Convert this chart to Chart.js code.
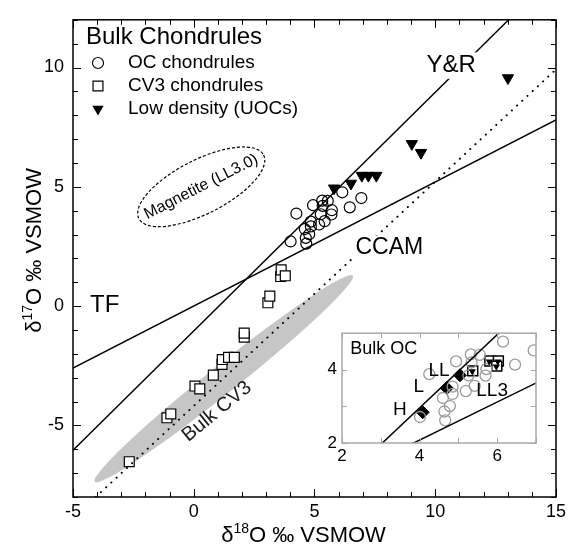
<!DOCTYPE html>
<html>
<head>
<meta charset="utf-8">
<script src="https://cdn.jsdelivr.net/npm/chart.js@4.4.1/dist/chart.umd.min.js"></script>
<style>
body{margin:0;background:#fff;}
#wrap{position:relative;width:570px;height:551px;}
#main{position:absolute;left:0;top:0;}
#inset{position:absolute;left:318px;top:318px;}
</style>
</head>
<body>
<div id="wrap">
<canvas id="main" width="570" height="551"></canvas>
<canvas id="inset" width="230" height="150"></canvas>
</div>
<script>
// data (delta18O, delta17O)
var ocChondrules = [[4.01,2.71],[4.25,3.88],[4.60,3.23],[4.64,2.86],[4.66,2.62],[4.78,3.01],[4.85,3.54],[4.85,3.34],[4.94,4.23],[5.19,3.42],
    [5.26,3.85],[5.32,4.42],[5.34,4.20],[5.42,3.56],[5.55,4.41],[5.70,3.84],[5.72,4.02],[6.15,4.77],[6.46,4.14],[6.94,4.53]];
var cv3Chondrules = [[-2.67,-6.52],[-1.11,-4.68],[-0.95,-4.52],[0.05,-3.35],[0.25,-3.47],[0.81,-2.89],[1.17,-2.44],[1.18,-2.24],[1.44,-2.15],
    [1.68,-2.15],[2.09,-1.30],[2.09,-1.13],[3.07,0.14],[3.15,0.42],[3.60,1.24],[3.62,1.52],[3.79,1.27]];
var lowDensity = [[5.81,4.94],[6.51,5.14],[6.96,5.47],[7.23,5.47],[7.56,5.47],[9.03,6.80],[9.41,6.43],[13.01,9.56]];
var bulkH = [[4.08,2.84]];
var bulkL = [[4.70,3.50]];
var bulkLL = [[5.04,3.85]];
var bulkLL3 = [[5.37,3.97],[5.81,4.24],[6.03,4.24],[5.99,4.10]];
var tfLine = [[-5,-2.6],[15,7.8]];
var yrLine = [[-5,-6.04],[13.04,12]];
var ccamLine = [[-4.06,-8],[15,9.92]];
var cv3Field = [[-4.1,-7.36],[6.59,1.28]];
var magnetiteField = [0.31,5.0];
var xTickLabels = [-5,0,5,10,15];
var yTickLabels = [-5,0,5,10];
var insetXTickLabels = [2,4,6];
var insetYTickLabels = [2,4];
var legendTitle = 'Bulk Chondrules';
var legendLabels = ['OC chondrules','CV3 chondrules','Low density (UOCs)'];
var xTitle = ['δ','18','O ‰ VSMOW'];
var yTitle = ['δ','17','O ‰ VSMOW'];

var FONT = "'Liberation Sans', Arial, Helvetica, sans-serif";
Chart.defaults.font.family = FONT;
Chart.defaults.color = '#000';

function pts(arr){ return arr.map(function(p){ return {x:p[0], y:p[1]}; }); }

function drawMarker(ctx, style, x, y, r, fill, stroke, lw){
    ctx.save();
    ctx.translate(x, y);
    ctx.beginPath();
    if(style === 'circle'){
        ctx.arc(0, 0, r, 0, 2*Math.PI);
    }else if(style === 'rect'){
        var s = r*Math.SQRT1_2;
        ctx.rect(-s, -s, 2*s, 2*s);
    }else if(style === 'down'){
        for(let i = 0; i < 3; i++){
            let a = Math.PI + i*2*Math.PI/3;
            let px = Math.sin(a)*r, py = -Math.cos(a)*r;
            if(i) ctx.lineTo(px, py); else ctx.moveTo(px, py);
        }
        ctx.closePath();
    }
    if(fill){ ctx.fillStyle = fill; ctx.fill(); }
    if(stroke){ ctx.strokeStyle = stroke; ctx.lineWidth = lw; ctx.stroke(); }
    ctx.restore();
}

function drawLabel(ctx, text, x, y, size, opts){
    opts = opts || {};
    ctx.save();
    ctx.translate(x, y);
    if(opts.rot) ctx.rotate(opts.rot*Math.PI/180);
    ctx.font = size + 'px ' + FONT;
    ctx.textBaseline = 'middle';
    ctx.textAlign = opts.align || 'center';
    if(opts.bg){
        var w = ctx.measureText(text).width;
        ctx.fillStyle = '#fff';
        ctx.fillRect(-w/2 - 3, -size*0.55, w + 6, size*1.1);
    }
    ctx.fillStyle = opts.color || '#000';
    ctx.fillText(text, 0, 0);
    ctx.restore();
}

function drawSupText(ctx, parts, x, y, size, rot){
    ctx.save();
    ctx.translate(x, y);
    if(rot) ctx.rotate(rot*Math.PI/180);
    ctx.textBaseline = 'middle';
    ctx.textAlign = 'left';
    ctx.fillStyle = '#000';
    var sub = Math.round(size*0.64);
    var widths = parts.map(function(t, i){
        ctx.font = (i === 1 ? sub : size) + 'px ' + FONT;
        return ctx.measureText(t).width;
    });
    var total = widths.reduce(function(a, b){ return a + b; }, 0);
    var cx = -total/2;
    parts.forEach(function(t, i){
        ctx.font = (i === 1 ? sub : size) + 'px ' + FONT;
        ctx.fillText(t, cx, i === 1 ? -size*0.3 : 0);
        cx += widths[i];
    });
    ctx.restore();
}

function drawFrame(chart, color, major, majorLen, minorLen){
    var a = chart.chartArea, ctx = chart.ctx;
    var sx = chart.scales.x, sy = chart.scales.y;
    ctx.save();
    ctx.strokeStyle = color;
    ctx.lineWidth = 1;
    ctx.beginPath();
    sx.ticks.forEach(function(t){
        var px = Math.round(sx.getPixelForValue(t.value)) + 0.5;
        var len = (major && t.value % major === 0) ? majorLen : minorLen;
        ctx.moveTo(px, a.bottom); ctx.lineTo(px, a.bottom - len);
        ctx.moveTo(px, a.top); ctx.lineTo(px, a.top + len);
    });
    sy.ticks.forEach(function(t){
        var py = Math.round(sy.getPixelForValue(t.value)) + 0.5;
        var len = (major && t.value % major === 0) ? majorLen : minorLen;
        ctx.moveTo(a.left, py); ctx.lineTo(a.left + len, py);
        ctx.moveTo(a.right, py); ctx.lineTo(a.right - len, py);
    });
    ctx.stroke();
    ctx.lineWidth = 1.5;
    ctx.strokeRect(a.left, a.top, a.right - a.left, a.bottom - a.top);
    ctx.restore();
}

function px(chart, p){
    return [chart.scales.x.getPixelForValue(p[0]), chart.scales.y.getPixelForValue(p[1])];
}

var mainDecor = {
    id: 'mainDecor',
    beforeDraw: function(chart){
        var ctx = chart.ctx;
        ctx.save();
        ctx.fillStyle = '#fff';
        ctx.fillRect(0, 0, chart.width, chart.height);
        ctx.restore();
    },
    beforeDatasetsDraw: function(chart){
        var ctx = chart.ctx;
        // Bulk CV3 field
        var p1 = px(chart, cv3Field[0]), p2 = px(chart, cv3Field[1]);
        var cx = (p1[0] + p2[0])/2, cy = (p1[1] + p2[1])/2;
        var len = Math.hypot(p2[0] - p1[0], p2[1] - p1[1])/2;
        var ang = Math.atan2(p2[1] - p1[1], p2[0] - p1[0]);
        ctx.save();
        ctx.fillStyle = '#c6c6c6';
        ctx.beginPath();
        ctx.ellipse(cx, cy, len, 14, ang, 0, 2*Math.PI);
        ctx.fill();
        // magnetite field
        var m = px(chart, magnetiteField);
        ctx.strokeStyle = '#000';
        ctx.lineWidth = 1.2;
        ctx.setLineDash([3, 2]);
        ctx.beginPath();
        ctx.ellipse(m[0], m[1], 70, 27, -27*Math.PI/180, 0, 2*Math.PI);
        ctx.stroke();
        ctx.restore();
        drawLabel(ctx, 'Magnetite (LL3.0)', m[0], m[1], 16, {rot: -27});
        var b = px(chart, [0.96, -4.42]);
        drawLabel(ctx, 'Bulk CV3', b[0], b[1], 20, {rot: -39.5, color: '#1a1a1a'});
    },
    afterDatasetsDraw: function(chart){
        var ctx = chart.ctx;
        var t = px(chart, [-3.69, 0.04]);
        drawLabel(ctx, 'TF', t[0], t[1], 24);
        var y = px(chart, [10.66, 10.08]);
        drawLabel(ctx, 'Y&R', y[0], y[1], 24, {bg: true});
        var c = px(chart, [8.10, 2.43]);
        drawLabel(ctx, 'CCAM', c[0], c[1], 23, {bg: true});
        drawFrame(chart, '#000', 5, 8, 5);
        // legend
        var a = chart.chartArea;
        drawLabel(ctx, legendTitle, a.left + 13, 37, 24, {align: 'left'});
        var rows = [63, 86, 109];
        var marks = [['circle', 5.5, null, '#000'], ['rect', 7, '#fff', '#000'], ['down', 6.5, '#000', null]];
        rows.forEach(function(ry, i){
            drawMarker(ctx, marks[i][0], a.left + 25, ry, marks[i][1], marks[i][2], marks[i][3], 1.2);
            drawLabel(ctx, legendLabels[i], a.left + 55, ry, 19, {align: 'left'});
        });
    },
    afterDraw: function(chart){
        var ctx = chart.ctx, a = chart.chartArea;
        drawSupText(ctx, xTitle, (a.left + a.right)/2 - 11, 536, 22, 0);
        drawSupText(ctx, yTitle, 35, (a.top + a.bottom)/2 - 8, 22, -90);
    }
};

function lineSet(data, dash){
    return {type: 'line', data: pts(data), showLine: true, pointRadius: 0, borderColor: '#000',
        borderWidth: dash ? 2 : 1.5, borderDash: dash || [], borderCapStyle: dash ? 'round' : 'butt', fill: false};
}

new Chart(document.getElementById('main'), {
    type: 'scatter',
    data: {
        datasets: [
            lineSet(tfLine),
            lineSet(yrLine),
            lineSet(ccamLine, [0.1, 7]),
            {label: legendLabels[1], data: pts(cv3Chondrules), pointStyle: 'rect', pointRadius: 7,
                backgroundColor: '#fff', borderColor: '#000', borderWidth: 1.2},
            {label: legendLabels[0], data: pts(ocChondrules), pointStyle: 'circle', pointRadius: 5.5,
                backgroundColor: 'rgba(0,0,0,0)', borderColor: '#000', borderWidth: 1.2},
            {label: legendLabels[2], data: pts(lowDensity), pointStyle: 'triangle', rotation: 180, pointRadius: 6.5,
                backgroundColor: '#000', borderColor: '#000', borderWidth: 1}
        ]
    },
    options: {
        responsive: false,
        animation: false,
        devicePixelRatio: 1,
        layout: {padding: {top: 13, right: 9, left: 0, bottom: 0}},
        plugins: {legend: {display: false}, tooltip: {enabled: false}},
        scales: {
            x: {
                type: 'linear', min: -5, max: 15,
                grid: {display: false, drawTicks: false}, border: {display: false},
                afterFit: function(s){ s.height = 54; },
                ticks: {stepSize: 1, autoSkip: false, maxRotation: 0, padding: 4, font: {size: 18},
                    callback: function(v){ return xTickLabels.indexOf(v) >= 0 ? String(v) : ''; }}
            },
            y: {
                type: 'linear', min: -8, max: 12,
                grid: {display: false, drawTicks: false}, border: {display: false},
                afterFit: function(s){ s.width = 73; },
                ticks: {stepSize: 1, autoSkip: false, padding: 9, font: {size: 18},
                    callback: function(v){ return yTickLabels.indexOf(v) >= 0 ? String(v) : ''; }}
            }
        }
    },
    plugins: [mainDecor]
});

var insetDecor = {
    id: 'insetDecor',
    beforeDatasetsDraw: function(chart){
        var a = chart.chartArea, ctx = chart.ctx;
        ctx.save();
        ctx.fillStyle = '#fff';
        ctx.fillRect(a.left, a.top, a.right - a.left, a.bottom - a.top);
        ctx.restore();
    },
    afterDatasetsDraw: function(chart){
        var ctx = chart.ctx;
        // LL3 marks: small black triangle inside each square
        bulkLL3.forEach(function(p){
            var q = px(chart, p);
            drawMarker(ctx, 'down', q[0] - 0.5, q[1] + 0.5, 4.2, '#000', null, 0);
        });
        var b = px(chart, [2.21, 4.56]);
        drawLabel(ctx, 'Bulk OC', b[0], b[1], 18, {align: 'left'});
        [['H', 3.49, 2.91], ['L', 3.98, 3.54], ['LL', 4.50, 3.96], ['LL3', 5.87, 3.44]].forEach(function(l){
            var q = px(chart, [l[1], l[2]]);
            drawLabel(ctx, l[0], q[0], q[1], 19);
        });
        drawFrame(chart, '#a8a8a8', 0, 5, 5);
    }
};

new Chart(document.getElementById('inset'), {
    type: 'scatter',
    data: {
        datasets: [
            lineSet(tfLine),
            lineSet(yrLine),
            {data: pts(ocChondrules), pointStyle: 'circle', pointRadius: 5.5,
                backgroundColor: 'rgba(0,0,0,0)', borderColor: '#9a9a9a', borderWidth: 1.3},
            {data: pts(bulkH.concat(bulkL, bulkLL)), pointStyle: 'rectRot', pointRadius: 6.5,
                backgroundColor: '#000', borderColor: '#000', borderWidth: 1},
            {data: pts(bulkLL3), pointStyle: 'rect', pointRadius: 7,
                backgroundColor: '#fff', borderColor: '#000', borderWidth: 1.5}
        ]
    },
    options: {
        responsive: false,
        animation: false,
        devicePixelRatio: 1,
        layout: {padding: {top: 10, right: 12, left: 0, bottom: 0}},
        plugins: {legend: {display: false}, tooltip: {enabled: false}},
        scales: {
            x: {
                type: 'linear', min: 2, max: 7,
                grid: {display: false, drawTicks: false}, border: {display: false},
                afterFit: function(s){ s.height = 25; },
                ticks: {stepSize: 1, autoSkip: false, maxRotation: 0, padding: 3, font: {size: 17},
                    callback: function(v){ return insetXTickLabels.indexOf(v) >= 0 ? String(v) : ''; }}
            },
            y: {
                type: 'linear', min: 2, max: 5,
                grid: {display: false, drawTicks: false}, border: {display: false},
                afterFit: function(s){ s.width = 24; },
                ticks: {stepSize: 1, autoSkip: false, padding: 5, font: {size: 17},
                    callback: function(v){ return insetYTickLabels.indexOf(v) >= 0 ? String(v) : ''; }}
            }
        }
    },
    plugins: [insetDecor]
});
</script>
</body>
</html>
